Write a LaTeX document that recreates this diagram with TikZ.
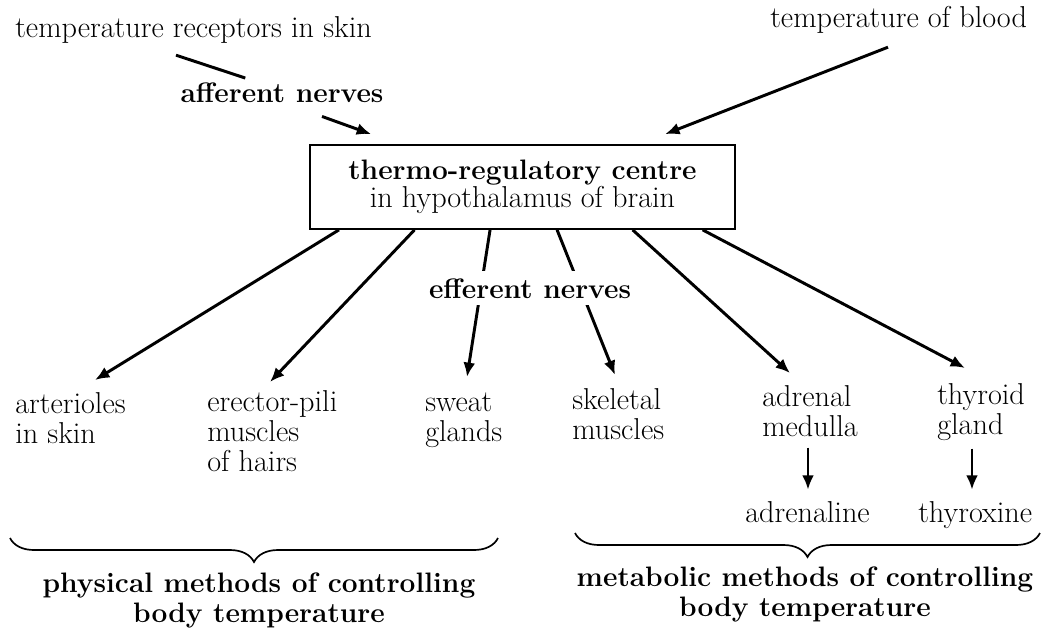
\documentclass[tikz,border=0pt]{standalone}
\usepackage{fontspec}
\usepackage{tikz}
\usetikzlibrary{arrows.meta,calc,decorations.pathreplacing}

\begin{document}
\begin{tikzpicture}[
  x=0.025cm,y=-0.025cm,
  font=\fontsize{21.5}{21.3}\selectfont,>={Latex[length=3.6mm,width=3mm]},
  lbl/.style={inner sep=0pt,align=left},
  blbl/.style={inner sep=0pt,font=\fontsize{20}{21.3}\selectfont\bfseries},
  hd/.style={inner sep=0pt,align=center,font=\fontsize{20}{21.3}\selectfont\bfseries},
  arr/.style={->,line width=2.1pt},
  brc/.style={decorate,line width=1.2pt,decoration={brace,mirror,amplitude=0.6cm}},
]
  \useasboundingbox (0,0) rectangle (1041,634);

  % inputs to the centre
  \node[lbl,anchor=base west] (rec) at (15,37) {temperature receptors in skin};
  \node[lbl,anchor=base west] (bld) at (770,27) {temperature of blood};
  \node[blbl,anchor=base] (aff) at (282,102) {afferent nerves};

  \node[draw,line width=1.2pt,minimum width=10.625cm,minimum height=2.1cm,
        align=center,inner sep=0pt,font=\fontsize{20}{19.9}\selectfont]
    (ctr) at (522.5,187)
    {\textbf{thermo-regulatory centre}\\{\fontsize{21.5}{19.9}\selectfont in hypothalamus of brain}};

  \draw[line width=2.1pt] ($(rec.south west)+(161,12)$) -- ($(aff.north west)+(65,-4)$);
  \draw[arr] ($(aff.south)+(40,14)$) -- ($(ctr.north west)+(62,-10)$);
  \draw[arr] ($(bld.south west)+(118,14)$) -- ($(ctr.north west)+(356,-10)$);

  % effectors
  \node[lbl,anchor=north west] (art) at (15,392) {arterioles\\in skin};
  \node[lbl,anchor=north west] (ere) at (207,390) {erector-pili\\muscles\\of hairs};
  \node[lbl,anchor=north west] (swt) at (425,393) {sweat\\glands};
  \node[lbl,anchor=north west] (skm) at (572,388) {skeletal\\muscles};
  \node[lbl,anchor=north west] (adm) at (762,385) {adrenal\\medulla};
  \node[lbl,anchor=north west] (thy) at (937,383) {thyroid\\gland};
  \node[lbl,anchor=base west] (adl) at (745,522) {adrenaline};
  \node[lbl,anchor=base west] (thx) at (918,522) {thyroxine};

  \draw[arr] ($(ctr.south west)!0.07!(ctr.south east)$) -- ($(art.north west)+(80,-12)$);
  \draw[arr] ($(ctr.south west)!0.247!(ctr.south east)$) -- ($(ere.north west)+(63,-8)$);
  \draw[arr] ($(ctr.south west)!0.424!(ctr.south east)$) -- ($(swt.north west)+(42,-16)$);
  \draw[arr] ($(ctr.south west)!0.581!(ctr.south east)$) -- ($(skm.north west)+(43,-13)$);
  \draw[arr] ($(ctr.south west)!0.758!(ctr.south east)$) -- ($(adm.north west)+(28,-12)$);
  \draw[arr] ($(ctr.south west)!0.922!(ctr.south east)$) -- ($(thy.north west)+(28,-15)$);
  \node[blbl,anchor=base,fill=white,inner sep=5pt] (eff) at (530,298) {efferent nerves};

  \draw[arr] ($(adm.south west)+(46,11)$) -- ($(adl.north west)+(63,-11)$);
  \draw[arr] ($(thy.south west)+(35,8)$) -- ($(thx.north west)+(54,-11)$);

  % groups
  \draw[brc] (10,538) -- (498,538);
  \draw[brc] (575,533) -- (1040,533);
  \node[hd] (phy) at (259,600) {physical methods of controlling\\body temperature};
  \node[hd] (met) at (805,594) {metabolic methods of controlling\\body temperature};
\end{tikzpicture}
\end{document}
